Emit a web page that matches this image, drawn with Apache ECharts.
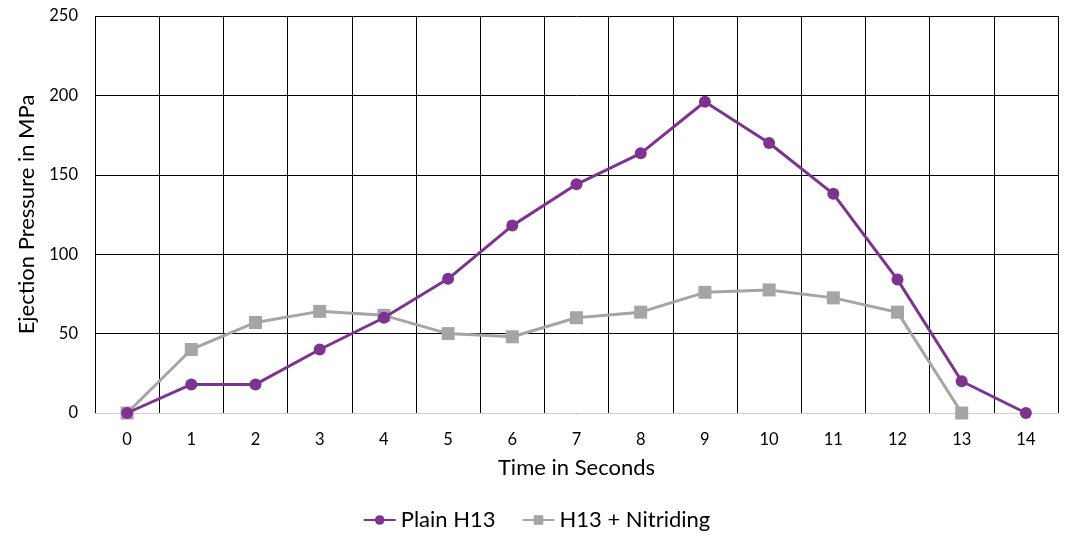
<!DOCTYPE html>
<html>
<head>
<meta charset="utf-8">
<script src="https://cdn.jsdelivr.net/npm/echarts@6/dist/echarts.min.js"></script>
<style>html,body{margin:0;padding:0;background:#fff}#c{width:1073px;height:548px}</style>
</head>
<body>
<div id="c"></div>
<script>
var categories = ['0','1','2','3','4','5','6','7','8','9','10','11','12','13','14'];
var plainH13 = [0, 18, 18, 40, 60, 84.5, 118, 144, 163.5, 196, 170, 138, 84, 20, 0];
var nitriding = [0, 40, 57, 64, 61.5, 50, 48, 60, 63.5, 76, 77.5, 72.5, 63.5, 0];
var yTicks = [0, 50, 100, 150, 200, 250];

var FONT = 'Lato';
var chart = echarts.init(document.getElementById('c'));
chart.setOption({
  animation: false,
  backgroundColor: '#fff',
  grid: { left: 95, right: 15, top: 16, bottom: 135 },
  legend: {
    bottom: 12,
    left: 'center',
    itemWidth: 32,
    itemHeight: 12,
    itemGap: 26,
    textStyle: { fontFamily: FONT, fontSize: 22, color: '#000' },
    data: ['Plain H13', 'H13 + Nitriding']
  },
  xAxis: {
    type: 'category',
    data: categories,
    boundaryGap: true,
    name: 'Time in Seconds',
    nameLocation: 'middle',
    nameGap: 44,
    nameTextStyle: { fontFamily: FONT, fontSize: 22, color: '#000' },
    axisLine: { lineStyle: { color: '#d0d0d0', width: 1 } },
    axisTick: { show: false },
    axisLabel: { fontFamily: FONT, fontSize: 16.5, color: '#000', margin: 18 },
    splitLine: { show: true, interval: 0, lineStyle: { color: '#000', width: 1 } }
  },
  yAxis: {
    type: 'value',
    min: yTicks[0],
    max: yTicks[yTicks.length - 1],
    interval: 50,
    name: 'Ejection Pressure in MPa',
    nameLocation: 'middle',
    nameGap: 51,
    nameTextStyle: { fontFamily: FONT, fontSize: 22, color: '#000' },
    axisLine: { show: false },
    axisTick: { show: false },
    axisLabel: { fontFamily: FONT, fontSize: 16.5, color: '#000', margin: 17 },
    splitLine: { show: true, lineStyle: { color: '#000', width: 1 } }
  },
  series: [
    {
      name: 'Plain H13',
      type: 'line',
      data: plainH13,
      symbol: 'circle',
      symbolSize: 12,
      lineStyle: { color: '#7E3391', width: 3 },
      itemStyle: { color: '#7E3391' },
      z: 3
    },
    {
      name: 'H13 + Nitriding',
      type: 'line',
      data: nitriding,
      symbol: 'rect',
      symbolSize: 13,
      lineStyle: { color: '#A5A5A5', width: 3 },
      itemStyle: { color: '#A5A5A5' },
      z: 2
    }
  ]
});
</script>
</body>
</html>
